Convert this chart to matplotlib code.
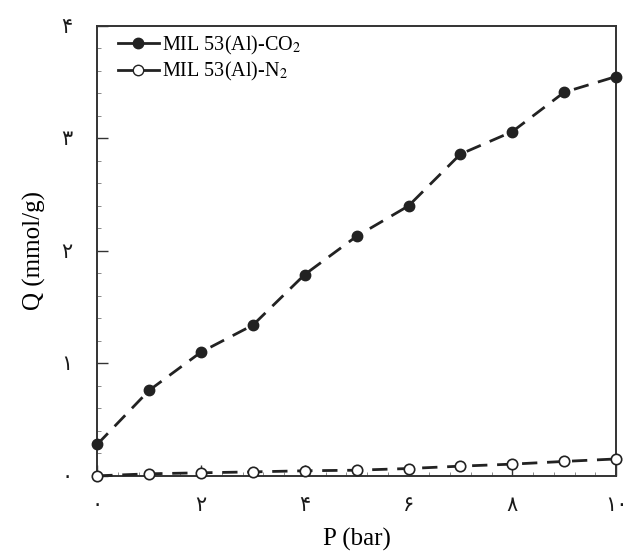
import matplotlib
matplotlib.use("Agg")
import matplotlib.pyplot as plt
from matplotlib.lines import Line2D
from matplotlib.ticker import MultipleLocator

plt.rcParams['font.family'] = ['Liberation Serif', 'DejaVu Sans']
plt.rcParams['mathtext.fontset'] = 'stix'

pressure = [0, 1, 2, 3, 4, 5, 6, 7, 8, 9, 10]
co2 = [0.28, 0.76, 1.10, 1.34, 1.79, 2.13, 2.40, 2.86, 3.06, 3.41, 3.55]
n2 = [0.0, 0.018, 0.027, 0.035, 0.045, 0.05, 0.065, 0.086, 0.104, 0.128, 0.15]
x_ticks = [0, 2, 4, 6, 8, 10]
x_labels = ['۰', '۲', '۴', '۶', '۸', '۱۰']
y_ticks = [0, 1, 2, 3, 4]
y_labels = ['۰', '۱', '۲', '۳', '۴']
names = ['MIL 53(Al)-CO$_2$', 'MIL 53(Al)-N$_2$']

fig = plt.figure(figsize=(6.4, 5.52), dpi=100)
ax = fig.add_axes([0.152, 0.138, 0.8105, 0.815])

lc = '#222222'
dash = (0, (5.5, 3.5))
ax.plot(pressure, co2, linestyle=dash, color=lc, lw=2.0,
        marker='o', markersize=7.5, markerfacecolor='#222222', markeredgecolor='#222222',
        clip_on=False, zorder=3)
ax.plot(pressure, n2, linestyle=dash, color=lc, lw=2.0,
        marker='o', markersize=7.5, markerfacecolor='white', markeredgecolor='#222222',
        markeredgewidth=1.2, clip_on=False, zorder=3)

ax.set_xlim(0, 10)
ax.set_ylim(0, 4)
ax.set_xticks(x_ticks)
ax.set_xticklabels(x_labels)
ax.set_yticks(y_ticks)
ax.set_yticklabels(y_labels)
ax.xaxis.set_minor_locator(MultipleLocator(0.4))
ax.yaxis.set_minor_locator(MultipleLocator(0.2))
ax.tick_params(which='major', direction='in', length=8, width=1.0, color='#333333',
               labelsize=15, labelcolor='#1a1a1a')
ax.tick_params(which='minor', direction='in', length=3, width=0.6, color='#777777')
ax.tick_params(axis='x', which='major', pad=15)
ax.tick_params(axis='y', which='major', pad=18)

for s in ax.spines.values():
    s.set_color('#333333')
    s.set_linewidth(1.4)

ax.set_xlabel('P (bar)', fontsize=18, labelpad=9)
ax.set_ylabel('Q (mmol/g)', fontsize=18, labelpad=11)

handles = [
    Line2D([], [], color=lc, lw=2.0, marker='o', markersize=7.5,
           markerfacecolor='#222222', markeredgecolor='#222222'),
    Line2D([], [], color=lc, lw=2.0, marker='o', markersize=7.5,
           markerfacecolor='white', markeredgecolor='#222222'),
]
ax.legend(handles, names, loc='upper left', frameon=False, fontsize=14.5,
          handlelength=2.0, handletextpad=0.15, borderaxespad=0.0, labelspacing=0.15,
          bbox_to_anchor=(0.025, 1.0))

fig.savefig('out.png', dpi=100)
